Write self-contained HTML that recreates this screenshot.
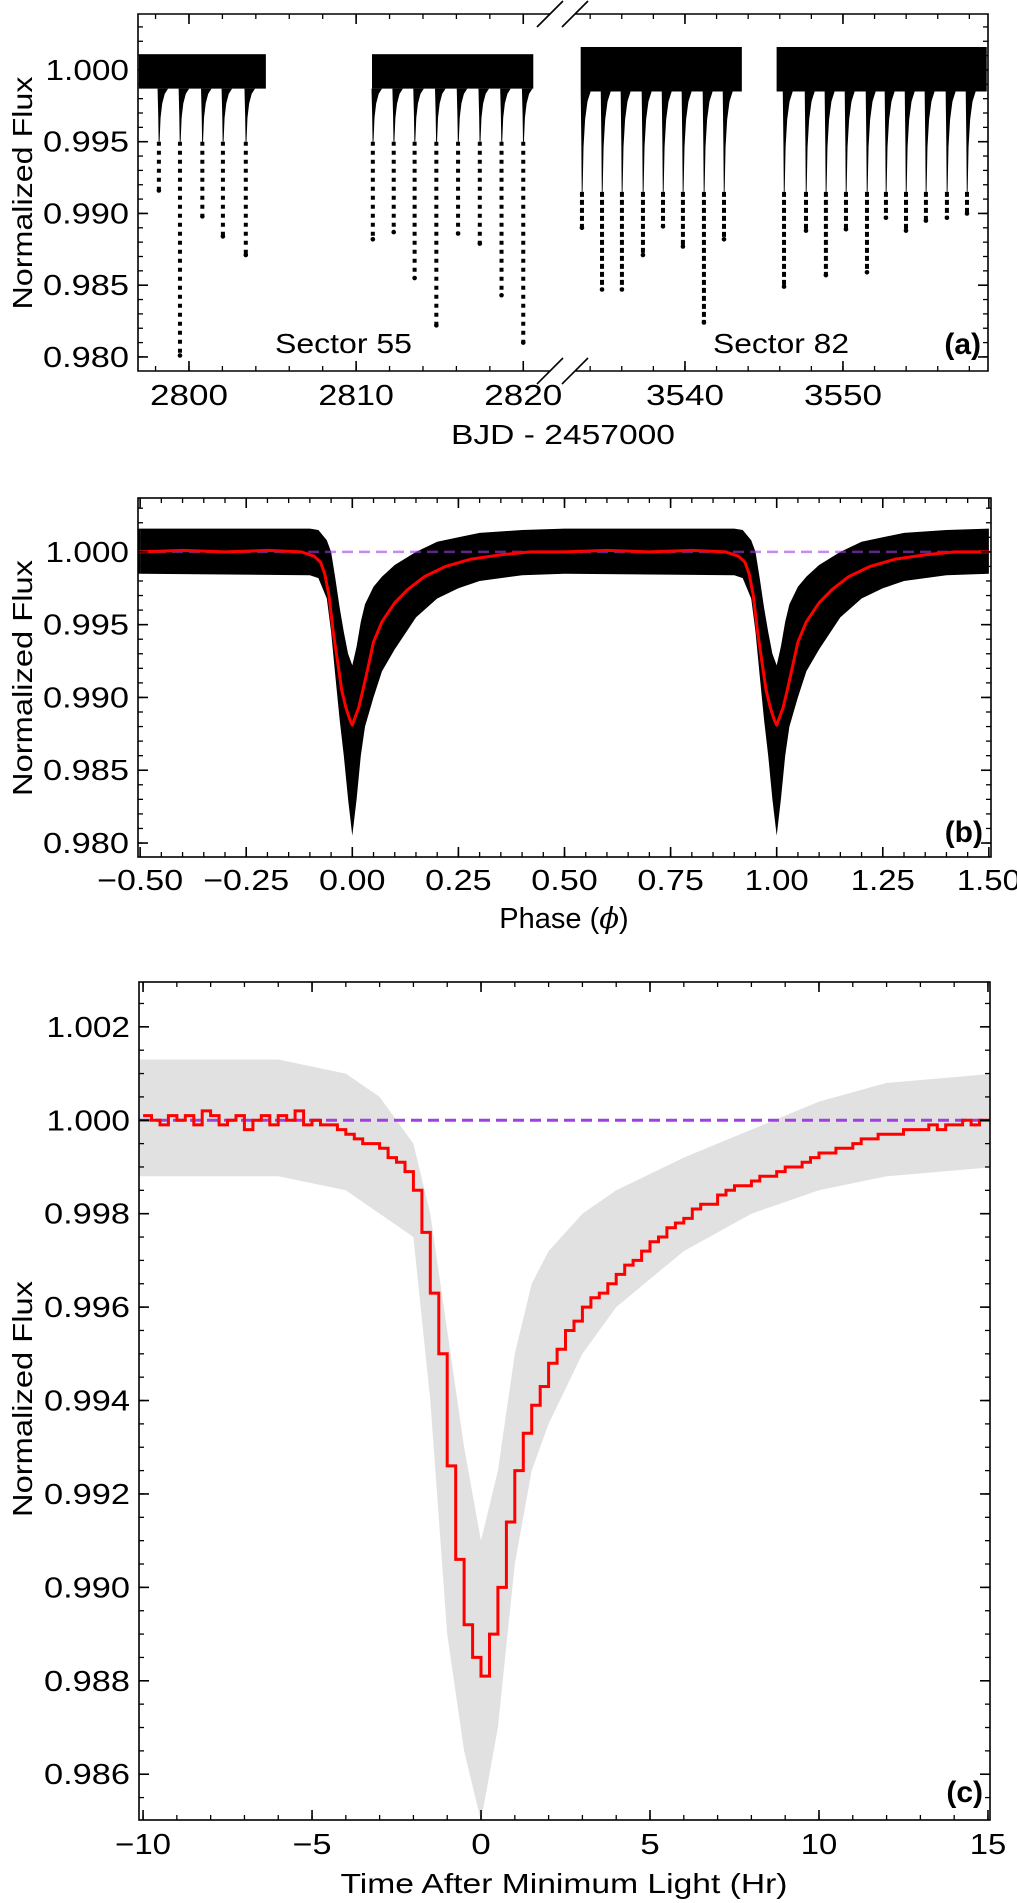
<!DOCTYPE html>
<html><head><meta charset="utf-8"><title>Light curve</title>
<style>
html,body{margin:0;padding:0;background:#fff;}
svg{display:block;font-family:"Liberation Sans",sans-serif;}
</style></head>
<body>
<svg id="fig" width="1017" height="1903" viewBox="0 0 1017 1903" xmlns="http://www.w3.org/2000/svg">
<defs>
<clipPath id="clipAL"><rect x="138" y="14" width="412" height="357"/></clipPath>
<clipPath id="clipAR"><rect x="575" y="14" width="413" height="357"/></clipPath>
<clipPath id="clipB"><rect x="138" y="498" width="853" height="359"/></clipPath>
<clipPath id="clipC"><rect x="139" y="982" width="851" height="838"/></clipPath>
</defs>
<g id="panelA"></g>
<g id="panelB"></g>
<g id="panelC"></g>
<text transform="translate(32,193) rotate(-90)" text-anchor="middle" font-size="28" textLength="233" lengthAdjust="spacingAndGlyphs">Normalized Flux</text>
<text transform="translate(32,678) rotate(-90)" text-anchor="middle" font-size="28" textLength="236" lengthAdjust="spacingAndGlyphs">Normalized Flux</text>
<text transform="translate(32,1399) rotate(-90)" text-anchor="middle" font-size="28" textLength="236" lengthAdjust="spacingAndGlyphs">Normalized Flux</text>
<text x="563" y="444" text-anchor="middle" font-size="28" textLength="224" lengthAdjust="spacingAndGlyphs">BJD - 2457000</text>
<text x="564" y="928" text-anchor="middle" font-size="29">Phase (<tspan font-style="italic" font-family="'DejaVu Serif',serif">ϕ</tspan>)</text>
<text x="564" y="1893" text-anchor="middle" font-size="28" textLength="447" lengthAdjust="spacingAndGlyphs">Time After Minimum Light (Hr)</text>
<text x="275" y="353" font-size="28" textLength="137" lengthAdjust="spacingAndGlyphs">Sector 55</text>
<text x="713" y="353" font-size="28" textLength="136" lengthAdjust="spacingAndGlyphs">Sector 82</text>
<text x="981" y="354" text-anchor="end" font-size="30" font-weight="bold">(a)</text>
<text x="983" y="842" text-anchor="end" font-size="30" font-weight="bold">(b)</text>
<text x="983" y="1802" text-anchor="end" font-size="30" font-weight="bold">(c)</text>
</svg>
<script>
// ---------- Panel (a) data ----------
const sector55Dips = [2798.2, 2799.46, 2800.8, 2802.03, 2803.4, 2811.0, 2812.25, 2813.5, 2814.8, 2816.1, 2817.4, 2818.7, 2820.0];
const sector55Depths = [0.9916, 0.9801, 0.9898, 0.9884, 0.9871, 0.9882, 0.9887, 0.9855, 0.9822, 0.9886, 0.9879, 0.9843, 0.9810];
const sector55Chunks = [[2797.0, 2804.6], [2810.95, 2820.6]];
const sector82Dips = [3533.48, 3534.75, 3536.01, 3537.34, 3538.61, 3539.87, 3541.2, 3542.47, 3546.27, 3547.66, 3548.92, 3550.19, 3551.52, 3552.72, 3553.99, 3555.25, 3556.58, 3557.85];
const sector82Depths = [0.9890, 0.9847, 0.9847, 0.9871, 0.9891, 0.9877, 0.9824, 0.9882, 0.9849, 0.9888, 0.9857, 0.9889, 0.9859, 0.9897, 0.9888, 0.9895, 0.9897, 0.9900];
const sector82Chunks = [[3533.4, 3543.6], [3545.8, 3559.1]];
const fluxTicksA = [0.980, 0.985, 0.990, 0.995, 1.000];
const timeTicksLeft = [2800, 2810, 2820];
const timeTicksRight = [3540, 3550];

// ---------- Panel (b) data ----------
const phaseKnots = [-0.5,-0.4,-0.3,-0.2,-0.12,-0.09,-0.075,-0.065,-0.055,-0.045,-0.035,-0.025,-0.015,-0.005,0,0.005,0.015,0.025,0.035,0.05,0.07,0.1,0.13,0.17,0.22,0.28,0.35,0.42,0.5];
const phaseFlux = [1.0000,1.0001,1.0000,1.0001,1.0000,0.9997,0.9993,0.9985,0.9970,0.9945,0.9925,0.9905,0.9893,0.9884,0.9881,0.9885,0.9893,0.9905,0.9918,0.9938,0.9952,0.9965,0.9974,0.9983,0.9990,0.9995,0.9998,1.0000,1.0000];
const envPhase = [-0.5,-0.1,-0.08,-0.06,-0.05,-0.04,-0.03,-0.02,-0.01,0,0.01,0.02,0.03,0.05,0.07,0.1,0.15,0.2,0.25,0.3,0.4,0.5];
const envLowB = [0.9985,0.9984,0.9982,0.9968,0.9945,0.9915,0.9885,0.9860,0.9830,0.9805,0.9830,0.9860,0.9880,0.9900,0.9918,0.9933,0.9955,0.9968,0.9975,0.9980,0.9984,0.9985];
const envHighB = [1.0016,1.0016,1.0015,1.0008,1.0000,0.9982,0.9962,0.9945,0.9930,0.9922,0.9935,0.9952,0.9964,0.9976,0.9983,0.9991,1.0000,1.0007,1.0010,1.0013,1.0015,1.0016];
const phaseTicks = [-0.5,-0.25,0,0.25,0.5,0.75,1.0,1.25,1.5];
const fluxTicksB = [0.980, 0.985, 0.990, 0.995, 1.000];

// ---------- Panel (c) data ----------
const binStart = [];
for (let i = 0; i < 101; i++) binStart.push(-10 + i * 0.25);
const binFlux = [1.0001,1.0000,0.9999,1.0001,1.0000,1.0001,0.9999,1.0002,1.0001,0.9999,1.0000,1.0001,0.9998,1.0000,1.0001,0.9999,1.0001,1.0000,1.0002,0.9999,1.0000,0.9999,0.9999,0.9998,0.9997,0.9996,0.9995,0.9995,0.9994,0.9992,0.9991,0.9989,0.9985,0.9976,0.9963,0.9950,0.9926,0.9906,0.9892,0.9885,0.9881,0.9890,0.9900,0.9914,0.9925,0.9933,0.9939,0.9943,0.9948,0.9951,0.9955,0.9957,0.9960,0.9962,0.9963,0.9965,0.9967,0.9969,0.9970,0.9972,0.9974,0.9975,0.9977,0.9978,0.9979,0.9981,0.9982,0.9982,0.9984,0.9985,0.9986,0.9986,0.9987,0.9988,0.9988,0.9989,0.9990,0.9990,0.9991,0.9992,0.9993,0.9993,0.9994,0.9994,0.9995,0.9996,0.9996,0.9997,0.9997,0.9997,0.9998,0.9998,0.9998,0.9999,0.9998,0.9999,0.9999,1.0000,0.9999,1.0000,1.0000];
const envHour = [-10.2,-6,-4,-3,-2,-1.5,-1,-0.5,0,0.5,1,1.5,2,3,4,6,8,10,12,15.2];
const envLowC = [0.9988,0.9988,0.9985,0.9980,0.9975,0.9940,0.9890,0.9865,0.9850,0.9870,0.9905,0.9925,0.9935,0.9950,0.9960,0.9972,0.9980,0.9985,0.9988,0.9990];
const envHighC = [1.0013,1.0013,1.0010,1.0005,0.9995,0.9980,0.9955,0.9930,0.9910,0.9925,0.9950,0.9965,0.9972,0.9980,0.9985,0.9992,0.9998,1.0004,1.0008,1.0010];
const hourTicks = [-10,-5,0,5,10,15];
const fluxTicksC = [0.986,0.988,0.990,0.992,0.994,0.996,0.998,1.000,1.002];

// ---------- helpers ----------
const NS = 'http://www.w3.org/2000/svg';
function mk(tag, attrs, parent){
  const e = document.createElementNS(NS, tag);
  for (const k in attrs) e.setAttribute(k, attrs[k]);
  parent.appendChild(e);
  return e;
}
function lin(d0,d1,r0,r1){ return v => r0 + (v-d0)/(d1-d0)*(r1-r0); }
function rangeStep(a,b,s){ const o=[]; for(let v=a; v<=b+1e-9; v+=s) o.push(+v.toFixed(6)); return o; }
function fmtMinus(s){ return s.replace('-', '\u2212'); }
function labelWidth(s){ let w=0; for(const c of s){ w += (c==='.') ? 8 : (c==='1' ? 17 : 19.5); } return w; }

function yTicks(g, y, minors, majors, xl, dir, labels, dec){
  minors.forEach(v=>{
    const a = mk('line',{x1:xl,x2:xl+5*dir,y1:y(v),y2:y(v),stroke:'#000','stroke-width':1.3},g);
    
    
  });
  majors.forEach(v=>{
    const a = mk('line',{x1:xl,x2:xl+10*dir,y1:y(v),y2:y(v),stroke:'#000','stroke-width':1.6},g);
    
    
    if (labels){
      const s = v.toFixed(dec);
      const t = mk('text',{x:xl-9,y:y(v)+10,'text-anchor':'end','font-size':29,textLength:labelWidth(s),lengthAdjust:'spacingAndGlyphs'},g);
      t.textContent = s;
      
      
    }
  });
}
function xTicks(g, x, minors, majors, yt, yb, labelY, fmt){
  minors.forEach(v=>{
    const a = mk('line',{x1:x(v),x2:x(v),y1:yb,y2:yb-5,stroke:'#000','stroke-width':1.3},g);
    
    
    const b = mk('line',{x1:x(v),x2:x(v),y1:yt,y2:yt+5,stroke:'#000','stroke-width':1.3},g);
    
    
  });
  majors.forEach(v=>{
    const a = mk('line',{x1:x(v),x2:x(v),y1:yb,y2:yb-10,stroke:'#000','stroke-width':1.6},g);
    
    
    const b = mk('line',{x1:x(v),x2:x(v),y1:yt,y2:yt+10,stroke:'#000','stroke-width':1.6},g);
    
    
    const s = fmt(v);
    const t = mk('text',{x:x(v),y:labelY,'text-anchor':'middle','font-size':29,textLength:labelWidth(s),lengthAdjust:'spacingAndGlyphs'},g);
    t.textContent = s;
    
    
  });
}
function envelopePath(xs, lo, hi, x, y, shift){
  let d = '';
  xs.forEach((v,i)=>{ d += (i?'L':'M') + x(v+shift).toFixed(1) + ',' + y(hi[i]).toFixed(1); });
  for (let i = xs.length-1; i >= 0; i--) d += 'L' + x(xs[i]+shift).toFixed(1) + ',' + y(lo[i]).toFixed(1);
  return d + 'Z';
}

// ---------- Panel (a) ----------
(function(){
  const g = document.getElementById('panelA');
  const top = 14, bot = 371;
  const y = lin(0.97902, 1.0039, bot, top);
  const xL = lin(2796.95, 2821.6, 138, 550);
  const xR = lin(3533.04, 3559.18, 575, 988);
  const data = mk('g',{},g);
  
  
  function drawSector(x, chunks, dips, depths, lo, hi, clip, dense){
    const sg = mk('g',{'clip-path':'url(#'+clip+')'},data);
    
    
    chunks.forEach(c=>{
      const r = mk('rect',{x:x(c[0]),y:y(hi),width:x(c[1])-x(c[0]),height:y(lo)-y(hi),fill:'#000'},sg);
      
      
    });
    dips.forEach((t,i)=>{
      const d = depths[i];
      const mid = Math.max(d, dense ? 0.9915 : 0.9950);
      const f = k => y(mid + (lo - mid) * k).toFixed(1);
      const p = mk('path',{d:'M'+x(t-0.08)+','+y(lo)+'L'+x(t-0.04)+','+f(0.5)+'L'+x(t-0.015)+','+y(mid)+'L'+x(t+0.04)+','+y(mid)+'L'+x(t+0.1)+','+f(0.45)+'L'+x(t+0.2)+','+f(0.72)+'L'+x(t+0.35)+','+f(0.9)+'L'+x(t+0.55)+','+y(lo)+'Z',fill:'#000'},sg);
      
      
      const l = mk('line',{x1:x(t),x2:x(t),y1:y(mid),y2:y(d),stroke:'#000','stroke-width':4,'stroke-dasharray':dense?'5,3':'4,5'},sg);
      
      
      const e = mk('circle',{cx:x(t),cy:y(d),r:2.3,fill:'#000'},sg);
      
      
    });
  }
  drawSector(xL, sector55Chunks, sector55Dips, sector55Depths, 0.9987, 1.0011, 'clipAL', false);
  drawSector(xR, sector82Chunks, sector82Dips, sector82Depths, 0.9985, 1.0016, 'clipAR', true);
  const sp = mk('path',{d:'M550,14 L138,14 L138,371 L550,371 M575,14 L988,14 L988,371 L575,371',fill:'none',stroke:'#000','stroke-width':1.6},g);
  
  
  const br = mk('path',{d:'M537,27 L563,1 M562,27 L588,1 M537,384 L563,358 M562,384 L588,358',fill:'none',stroke:'#000','stroke-width':1.6},g);
  
  
  yTicks(g, y, rangeStep(0.980,1.003,0.001), fluxTicksA, 138, 1, true, 3);
  yTicks(g, y, rangeStep(0.980,1.003,0.001), fluxTicksA, 988, -1, false, 3);
  xTicks(g, xL, rangeStep(2798,2820,2), timeTicksLeft, 14, 371, 405, v=>String(v));
  xTicks(g, xR, rangeStep(3534,3558,2), timeTicksRight, 14, 371, 405, v=>String(v));
})();

// ---------- Panel (b) ----------
(function(){
  const g = document.getElementById('panelB');
  const top = 498, bot = 857, xl = 138, xr = 991;
  const y = lin(0.97904, 1.0037, bot, top);
  const x = lin(-0.505, 1.505, xl, xr);
  const dg = mk('g',{'clip-path':'url(#clipB)'},g);
  
  
  [-1,0,1].forEach(s=>{
    const p = mk('path',{d:envelopePath(envPhase, envLowB, envHighB, x, y, s),fill:'#000'},dg);
    
    
  });
  const ref = mk('line',{x1:xl,x2:xr,y1:y(1.0),y2:y(1.0),stroke:'#a040e0','stroke-width':2.5,'stroke-dasharray':'11,6','stroke-opacity':0.6},dg);
  
  
  [-1,0,1].forEach(s=>{
    let d = '';
    phaseKnots.forEach((v,i)=>{ d += (i?'L':'M') + x(v+s).toFixed(1) + ',' + y(phaseFlux[i]).toFixed(1); });
    const p = mk('path',{d:d,fill:'none',stroke:'#ff0000','stroke-width':3,'stroke-linejoin':'round'},dg);
    
    
  });
  const sp = mk('rect',{x:xl,y:top,width:xr-xl,height:bot-top,fill:'none',stroke:'#000','stroke-width':1.6},g);
  
  
  yTicks(g, y, rangeStep(0.980,1.003,0.001), fluxTicksB, xl, 1, true, 3);
  yTicks(g, y, rangeStep(0.980,1.003,0.001), fluxTicksB, xr, -1, false, 3);
  xTicks(g, x, rangeStep(-0.5,1.5,0.05), phaseTicks, top, bot, 890, v=>fmtMinus(v.toFixed(2)));
})();

// ---------- Panel (c) ----------
(function(){
  const g = document.getElementById('panelC');
  const top = 982, bot = 1820, xl = 139, xr = 990;
  const y = lin(0.98502, 1.00296, bot, top);
  const x = lin(-10.12, 15.06, xl, xr);
  const dg = mk('g',{'clip-path':'url(#clipC)'},g);
  
  
  const band = mk('path',{d:envelopePath(envHour, envLowC, envHighC, x, y, 0),fill:'#9a9a9a','fill-opacity':0.3},dg);
  
  
  const ref = mk('line',{x1:xl,x2:xr,y1:y(1.0),y2:y(1.0),stroke:'#a040e0','stroke-width':3,'stroke-dasharray':'11,6'},dg);
  
  
  let d = '';
  binFlux.forEach((v,i)=>{
    const x0 = x(binStart[i]), x1 = x(binStart[i] + 0.25), yy = y(v).toFixed(1);
    d += (i ? 'L' + x0.toFixed(1) + ',' + yy : 'M' + x0.toFixed(1) + ',' + yy) + 'L' + x1.toFixed(1) + ',' + yy;
  });
  const step = mk('path',{d:d,fill:'none',stroke:'#ff0000','stroke-width':3},dg);
  
  
  const sp = mk('rect',{x:xl,y:top,width:xr-xl,height:bot-top,fill:'none',stroke:'#000','stroke-width':1.6},g);
  
  
  yTicks(g, y, rangeStep(0.9855,1.0025,0.0005), fluxTicksC, xl, 1, true, 3);
  yTicks(g, y, rangeStep(0.9855,1.0025,0.0005), fluxTicksC, xr, -1, false, 3);
  xTicks(g, x, rangeStep(-10,15,1), hourTicks, top, bot, 1854, v=>fmtMinus(String(v)));
})();
</script>
</body></html>
